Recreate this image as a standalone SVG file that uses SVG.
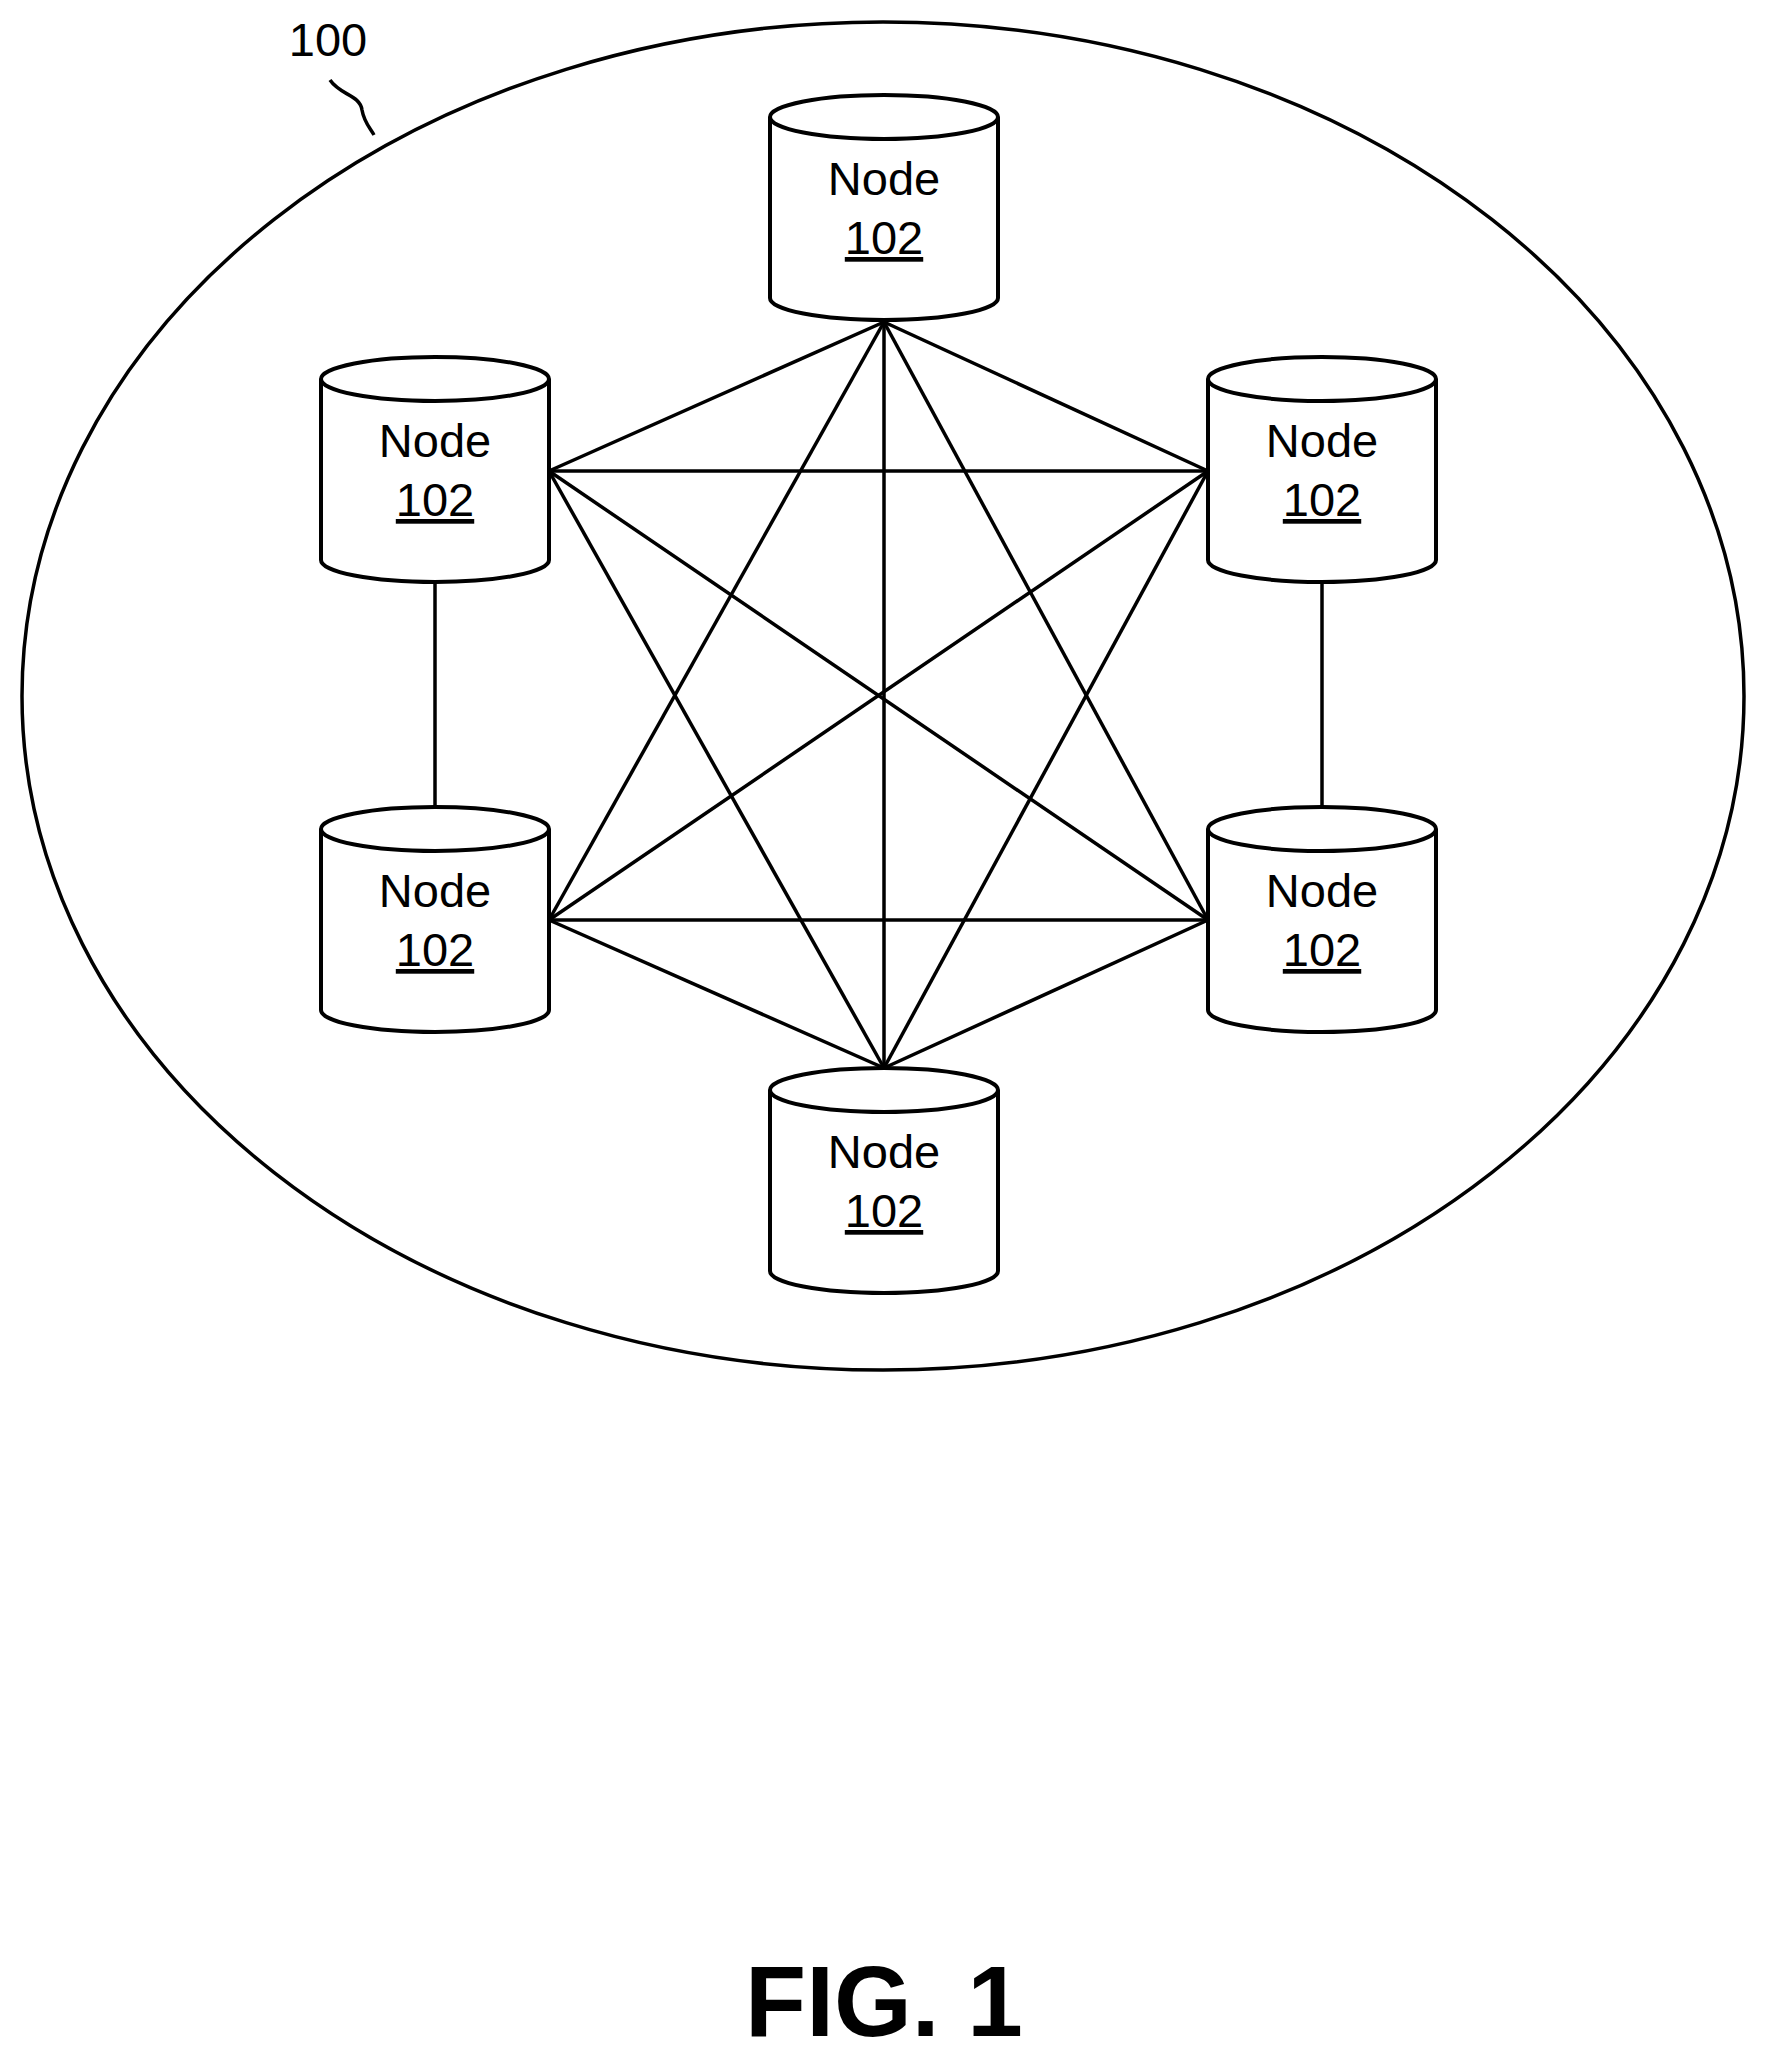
<svg xmlns="http://www.w3.org/2000/svg" width="1770" height="2061" viewBox="0 0 1770 2061">
<style>
.s{fill:none;stroke:#000;stroke-width:3.5}
.c{fill:#fff;stroke:#000;stroke-width:4}
.t{font-family:"Liberation Sans",Arial,sans-serif;font-size:47px;text-anchor:middle;fill:#000}
</style>
<defs>
<g id="cyl">
<path class="c" d="M-114,0 V181 A114,22 0 0 0 114,181 V0"/>
<ellipse class="c" cx="0" cy="0" rx="114" ry="22"/>
<text class="t" x="0" y="78">Node</text>
<text class="t" x="0" y="137" text-decoration="underline">102</text>
</g>
</defs>
<rect width="1770" height="2061" fill="#fff"/>
<ellipse class="s" cx="883" cy="696" rx="861" ry="674"/>
<text class="t" x="328" y="56" font-size="42">100</text>
<path class="s" d="M330,80 C340,95 360,95 362,110 C364,122 370,128 374,135"/>
<g id="connectors" class="s">
<line x1="549" y1="471" x2="1208" y2="471"/>
<line x1="549" y1="920" x2="1208" y2="920"/>
<line x1="549" y1="471" x2="884" y2="322"/>
<line x1="1208" y1="471" x2="884" y2="322"/>
<line x1="549" y1="920" x2="884" y2="1068"/>
<line x1="1208" y1="920" x2="884" y2="1068"/>
<line x1="884" y1="322" x2="884" y2="1068"/>
<line x1="549" y1="471" x2="1208" y2="920"/>
<line x1="1208" y1="471" x2="549" y2="920"/>
<line x1="884" y1="322" x2="549" y2="920"/>
<line x1="884" y1="322" x2="1208" y2="920"/>
<line x1="549" y1="471" x2="884" y2="1068"/>
<line x1="1208" y1="471" x2="884" y2="1068"/>
<line x1="435" y1="582" x2="435" y2="807"/>
<line x1="1322" y1="582" x2="1322" y2="807"/>
</g>
<g id="node-top"><use href="#cyl" x="884" y="117"/></g>
<g id="node-ul"><use href="#cyl" x="435" y="379"/></g>
<g id="node-ur"><use href="#cyl" x="1322" y="379"/></g>
<g id="node-ll"><use href="#cyl" x="435" y="829"/></g>
<g id="node-lr"><use href="#cyl" x="1322" y="829"/></g>
<g id="node-bottom"><use href="#cyl" x="884" y="1090"/></g>
<text x="884" y="2036" font-family="Liberation Sans,Arial,sans-serif" font-size="100" font-weight="bold" text-anchor="middle">FIG. 1</text>
</svg>
